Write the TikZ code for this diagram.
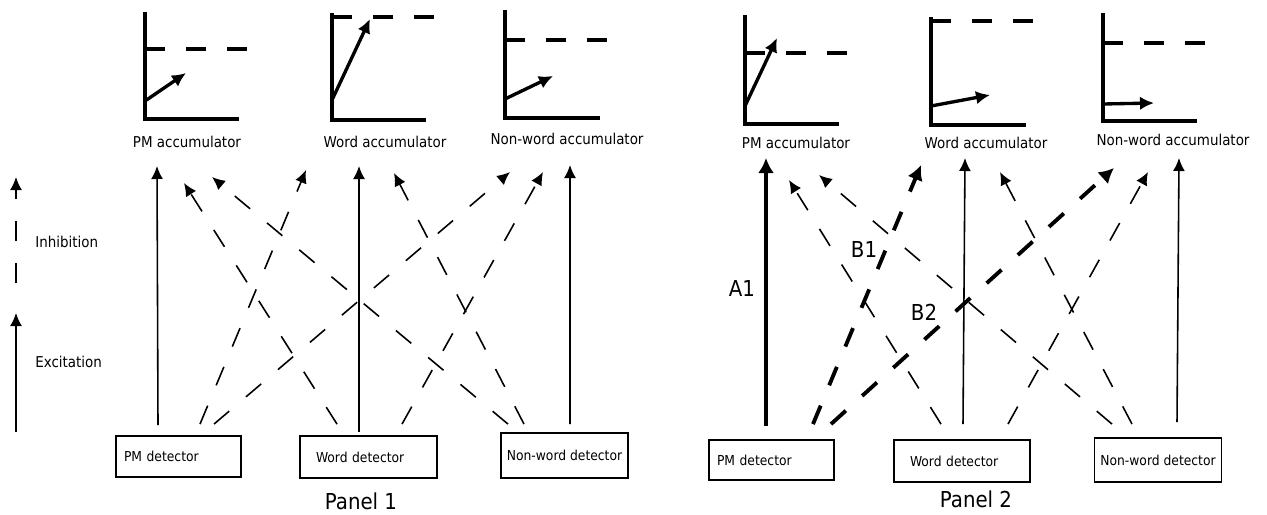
\documentclass[tikz,border=0pt]{standalone}
\usepackage{fontspec}
\setmainfont{DejaVu Sans Condensed}
\usepackage{tikz}
\usetikzlibrary{arrows.meta, calc}

\tikzset{
  acc/.style={inner sep=0pt, font=\fontsize{8.5}{10}\selectfont},
  legend/.style={inner sep=0pt, font=\fontsize{8.5}{10}\selectfont},
  det/.style={draw, line width=1.05pt, inner ysep=0pt, font=\fontsize{7.8}{10}\selectfont},
  tag/.style={inner sep=0pt, font=\fontsize{12.5}{14}\selectfont},
  exc/.style={line width=0.9pt, -{Latex[length=0.26cm,width=0.24cm]}},
  inh/.style={exc, dash pattern=on 0.4cm off 0.44cm},
  excbold/.style={line width=2.2pt, -{Latex[length=0.3cm,width=0.32cm]}},
  inhbold/.style={excbold, dash pattern=on 0.4cm off 0.44cm},
  axis/.style={line width=1.9pt},
  thresh/.style={line width=1.9pt, dash pattern=on 0.4cm off 0.42cm},
  growth/.style={line width=1.9pt, -{Latex[length=0.28cm,width=0.27cm]}}
}

\begin{document}
\begin{tikzpicture}[x=0.02cm, y=-0.02cm]
    \useasboundingbox (0,0) rectangle (1267,514);

    % Legend
    \node[legend, anchor=west] (inhlab) at (35,242) {Inhibition};
    \node[legend, anchor=west] (exclab) at (35,362) {Excitation};
    \coordinate (inhfoot) at (16,283);
    \coordinate (inhhead) at (16,177);
    \coordinate (excfoot) at (16,432);
    \coordinate (exchead) at (16,313);
    \draw[inh] (inhfoot) -- (inhhead);
    \draw[exc] (excfoot) -- (exchead);

    % Panel 1: accumulator plots
    \draw[axis] (145,12) -- (145,119) -- (239,119); % PM
    \draw[thresh] (145,49) -- (248,49);
    \draw[growth] (145,101) -- (186,73);
    \draw[axis] (332,13) -- (332,120) -- (426,120); % Word
    \draw[thresh] (332,17) -- (437,17);
    \draw[growth] (332,100) -- (370,19);
    \draw[axis] (505,10) -- (505,118) -- (600,118); % Non-word
    \draw[thresh] (505,40) -- (608,40);
    \draw[growth] (505,99) -- (553,76);

    \node[acc] (pmacc1) at (187,142) {PM accumulator};
    \node[acc] (wacc1) at (385,142) {Word accumulator};
    \node[acc] (nwacc1) at (567,139) {Non-word accumulator};

    % Panel 1: detectors
    \node[det, minimum height=0.82cm, text width=2.18cm, inner xsep=0.16cm, align=left] (pmdet1) at (178.5,456.5) {PM detector};
    \node[det, minimum height=0.84cm, text width=2.1cm, inner xsep=0.32cm, align=left] (wdet1) at (368.5,457) {Word detector};
    \node[det, minimum height=0.9cm, minimum width=2.54cm] (nwdet1) at (564.5,455.5) {Non-word detector};

    % Panel 1: links
    \draw[exc] ($(pmdet1.north)+(-20.5,-10)$) -- ($(pmacc1)+(-30,24)$);
    \draw[exc] ($(wdet1.north)+(-9.5,-3)$) -- ($(wacc1)+(-26,24)$);
    \draw[exc] ($(nwdet1.north)+(5.5,-8)$) -- ($(nwacc1)+(3,26)$);
    \draw[inh] ($(pmdet1.north)+(21.5,-11)$) -- ($(wacc1)+(-79,28)$);
    \draw[inh] ($(pmdet1.north)+(35.5,-11)$) -- ($(nwacc1)+(-57,33)$);
    \draw[inh] ($(wdet1.north)+(-31.5,-11)$) -- ($(pmacc1)+(-3,41)$);
    \draw[inh] ($(wdet1.north)+(33.5,-11)$) -- ($(nwacc1)+(-24,33)$);
    \draw[inh] ($(nwdet1.north)+(-56.5,-8)$) -- ($(pmacc1)+(25,35)$);
    \draw[inh] ($(nwdet1.north)+(-40.5,-8)$) -- ($(wacc1)+(9,31)$);

    \node[tag] (panel1) at (361,501) {Panel 1};

    % Panel 2: accumulator plots
    \draw[axis] (745,15) -- (745,124) -- (839,124); % PM
    \draw[thresh] (745,53) -- (847,53);
    \draw[growth] (745,106) -- (777,38);
    \draw[axis] (931,17) -- (931,125) -- (1026,125); % Word
    \draw[thresh] (931,21) -- (1035,21);
    \draw[growth] (931,106) -- (990,95);
    \draw[axis] (1103,13) -- (1103,121) -- (1197,121); % Non-word
    \draw[thresh] (1103,43) -- (1206,43);
    \draw[growth] (1103,104) -- (1154,103);

    \node[acc] (pmacc2) at (796,143) {PM accumulator};
    \node[acc] (wacc2) at (986,143) {Word accumulator};
    \node[acc] (nwacc2) at (1173,140) {Non-word accumulator};

    % Panel 2: detectors
    \node[det, minimum height=0.8cm, text width=2.18cm, inner xsep=0.16cm, align=left] (pmdet2) at (771.5,460) {PM detector};
    \node[det, minimum height=0.84cm, text width=2.08cm, inner xsep=0.32cm, align=left] (wdet2) at (962,461) {Word detector};
    \node[det, minimum height=0.88cm, minimum width=2.52cm] (nwdet2) at (1158,460) {Non-word detector};

    % Panel 2: links
    \draw[excbold] ($(pmdet2.north)+(-5.5,-13)$) -- ($(pmacc2)+(-30,15)$);
    \draw[exc] ($(wdet2.north)+(1,-15)$) -- ($(wacc2)+(-21,15)$);
    \draw[exc] ($(nwdet2.north)+(19,-15)$) -- ($(nwacc2)+(6,18)$);
    \draw[inhbold] ($(pmdet2.north)+(41.5,-15)$) -- ($(wacc2)+(-65,22)$);
    \draw[inhbold] ($(pmdet2.north)+(59.5,-15)$) -- ($(nwacc2)+(-59,28)$);
    \draw[inh] ($(wdet2.north)+(-21,-15)$) -- ($(pmacc2)+(-7,37)$);
    \draw[inh] ($(wdet2.north)+(46,-15)$) -- ($(nwacc2)+(-25,32)$);
    \draw[inh] ($(nwdet2.north)+(-46,-13)$) -- ($(pmacc2)+(23,32)$);
    \draw[inh] ($(nwdet2.north)+(-26,-13)$) -- ($(wacc2)+(14,29)$);

    \node[tag] (a1) at (742,288) {A1};
    \node[tag] (b1) at (864,249) {B1};
    \node[tag] (b2) at (924,312) {B2};
    \node[tag] (panel2) at (976,499) {Panel 2};
\end{tikzpicture}
\end{document}
